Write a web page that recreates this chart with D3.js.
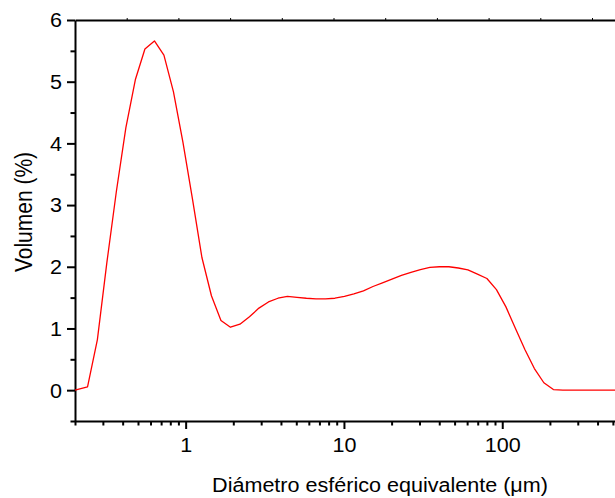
<!DOCTYPE html>
<html>
<head>
<meta charset="utf-8">
<script src="https://cdn.jsdelivr.net/npm/d3@7"></script>
<style>
  html, body { margin: 0; padding: 0; background: #fff; }
  svg { display: block; overflow: hidden; }
  text { font-family: "Liberation Sans", Arial, sans-serif; fill: #000; }
</style>
</head>
<body>
<svg id="chart" width="615" height="498"></svg>
<script>
// Particle size distribution (laser diffraction), volume % per size class
const diameters = [0.2, 0.24, 0.277, 0.318, 0.365, 0.419, 0.482, 0.553, 0.635, 0.729,
  0.837, 0.961, 1.104, 1.267, 1.455, 1.671, 1.919, 2.203, 2.53, 2.904,
  3.335, 3.83, 4.397, 5.05, 5.79, 6.66, 7.64, 8.77, 10.07, 11.56,
  13.28, 15.25, 17.51, 20.1, 23.08, 26.5, 30.4, 34.9, 40.1, 46.0,
  52.8, 60.7, 69.7, 80.0, 91.9, 105.5, 121.2, 139, 159.6, 183.2,
  210.4, 241.6, 277, 318, 365, 419, 482, 553, 635, 729];
const volumes = [0, 0.054, 0.82, 2.07, 3.22, 4.25, 5.04, 5.53, 5.66, 5.43,
  4.84, 4.02, 3.1, 2.15, 1.53, 1.13, 1.02, 1.07, 1.19, 1.33,
  1.43, 1.49, 1.52, 1.505, 1.49, 1.48, 1.48, 1.49, 1.52, 1.56,
  1.61, 1.68, 1.74, 1.80, 1.86, 1.91, 1.955, 1.99, 2.0, 2.0,
  1.98, 1.95, 1.88, 1.81, 1.63, 1.35, 1.0, 0.66, 0.35, 0.12,
  0.01, 0, 0, 0, 0, 0, 0, 0, 0, 0];

const xMajorTicks = [1, 10, 100];
const xMinorTicks = [0.2, 0.3, 0.4, 0.5, 0.6, 0.7, 0.8, 0.9,
  2, 3, 4, 5, 6, 7, 8, 9, 20, 30, 40, 50, 60, 70, 80, 90,
  200, 300, 400, 500, 600, 700, 800, 900];
const yMajorTicks = [0, 1, 2, 3, 4, 5, 6];
const yMinorTicks = [-0.5, 0.5, 1.5, 2.5, 3.5, 4.5, 5.5];
const topTicks = [1, 2, 3, 4, 5, 6, 7, 8, 9, 10, 11];

const xLabel = "Diámetro esférico equivalente (μm)";
const yLabel = "Volumen (%)";

const svg = d3.select("#chart");
const plotLeft = 75, plotTop = 20, plotBottom = 421;
const decade = 158.3;
const xDomain = [0.2, 1000];

const x = d3.scaleLog().domain(xDomain)
  .range([plotLeft, plotLeft + decade * Math.log10(xDomain[1] / xDomain[0])]);
const y = d3.scaleLinear().domain([-0.5, 6]).range([plotBottom, plotTop]);
const xTop = d3.scaleLinear().domain([0, 12]).range([plotLeft, plotLeft + 12 * 51.7]);

const sx = 1.1;     // horizontal glyph stretch
const fs = 19.6;    // font size

// axes: minor ticks first, then major ticks with the axis line and labels
const gx = svg.append("g").attr("transform", `translate(0,${plotBottom})`);
gx.call(d3.axisBottom(x).tickValues(xMinorTicks).tickSize(4.5).tickFormat(""));
gx.call(g => g.select(".domain").remove());
const gx2 = svg.append("g").attr("transform", `translate(0,${plotBottom})`);
gx2.call(d3.axisBottom(x).tickValues(xMajorTicks).tickSize(8).tickSizeOuter(0).tickFormat(d3.format("d")));

const gy = svg.append("g").attr("transform", `translate(${plotLeft},0)`);
gy.call(d3.axisLeft(y).tickValues(yMinorTicks).tickSize(4.5).tickFormat(""));
gy.call(g => g.select(".domain").remove());
const gy2 = svg.append("g").attr("transform", `translate(${plotLeft},0)`);
gy2.call(d3.axisLeft(y).tickValues(yMajorTicks).tickSize(8).tickSizeOuter(0).tickFormat(d3.format("d")));

const gt = svg.append("g").attr("transform", `translate(0,${plotTop})`);
gt.call(d3.axisTop(xTop).tickValues(topTicks).tickSize(2).tickSizeOuter(0).tickFormat(""));

svg.selectAll(".domain").attr("stroke", "#000").attr("stroke-width", 2);
svg.selectAll(".tick line").attr("stroke", "#000").attr("stroke-width", 2);
gt.selectAll(".tick line").attr("stroke-width", 1);

gx2.selectAll(".tick text")
  .attr("font-size", fs).attr("dy", null).attr("y", 0)
  .attr("transform", `translate(0,30.5) scale(${sx},1)`);
gy2.selectAll(".tick text")
  .attr("font-size", fs).attr("x", 0).attr("dy", "0.35em")
  .attr("transform", `translate(-13,0) scale(${sx},1)`);

// distribution curve
const line = d3.line()
  .x((d, i) => x(diameters[i]))
  .y(d => y(d));
svg.append("path")
  .datum(volumes)
  .attr("fill", "none")
  .attr("stroke", "#ff0000")
  .attr("stroke-width", 1.3)
  .attr("stroke-linejoin", "round")
  .attr("d", line);

// axis titles
svg.append("text")
  .attr("transform", `translate(380,491.5) scale(${sx},1)`)
  .attr("text-anchor", "middle")
  .attr("font-size", fs)
  .text(xLabel);

svg.append("text")
  .attr("transform", `translate(31.5,212) scale(${sx},1) rotate(-90)`)
  .attr("text-anchor", "middle")
  .attr("font-size", 21)
  .text(yLabel);
</script>
</body>
</html>
